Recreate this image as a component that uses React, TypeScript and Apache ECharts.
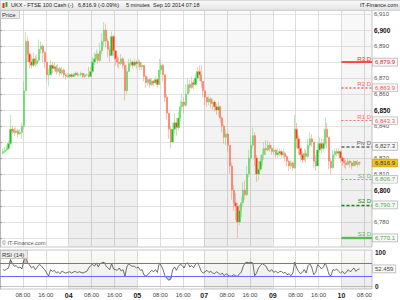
import React, { useEffect, useRef } from "react";
import * as echarts from "echarts";

// ---- data ----
const tickSlots = [12, 24, 36, 48, 60, 72, 84, 96, 107, 119, 131, 143, 155, 167, 179, 191];
const tickLabels = ["08:00", "16:00", "04", "08:00", "16:00", "05", "08:00", "16:00", "07", "08:00", "16:00", "09", "08:00", "16:00", "10", "08:00"];
const dayTickLabels = ["04", "05", "07", "09", "10"];
const shadedDays = [[36, 72], [107, 143], [179, 195]];
const slotCount = 195;

const firstSlot = 1;
const firstOpen = 6823;
const closes = [
  6824, 6825, 6826, 6829, 6838, 6837, 6836, 6837, 6835, 6836, 6840, 6862, 6893, 6885, 6880, 6878, 6882, 6879, 6881, 6888,
  6890, 6886, 6880, 6872, 6872, 6878, 6876, 6877, 6874, 6876, 6873, 6875, 6872, 6871, 6871, 6872, 6871, 6872, 6873, 6872,
  6872, 6873, 6871, 6872, 6872, 6871, 6874, 6880, 6882, 6885, 6881, 6887, 6893, 6900, 6893, 6888, 6884, 6896, 6887, 6882,
  6880, 6879, 6882, 6878, 6862, 6874, 6879, 6880, 6878, 6880, 6879, 6880, 6877, 6878, 6871, 6867, 6869, 6866, 6868, 6867,
  6869, 6866, 6875, 6878, 6872, 6858, 6848, 6838, 6830, 6838, 6842, 6839, 6845, 6852, 6855, 6853, 6860, 6866, 6864, 6867,
  6866, 6870, 6874, 6872, 6868, 6862, 6858, 6855, 6857, 6854, 6855, 6852, 6850, 6852, 6845, 6840, 6833, 6835, 6828, 6815,
  6800, 6792, 6790, 6780, 6787, 6792, 6800, 6797, 6810, 6820, 6828, 6834, 6820, 6810, 6813, 6818, 6822, 6826, 6825, 6828,
  6826, 6824, 6825, 6822, 6823, 6824, 6822, 6823, 6821, 6818, 6815, 6817, 6814, 6838, 6832, 6826, 6822, 6819, 6823, 6821,
  6828, 6832, 6830, 6818, 6815, 6825, 6829, 6826, 6829, 6838, 6833, 6818, 6814, 6822, 6824, 6823, 6824, 6820, 6818, 6817,
  6816, 6818, 6817, 6815, 6818, 6816, 6817, 6816.9,
];
const highs = [
  6826, 6827, 6828, 6831, 6847, 6840, 6839, 6839, 6838, 6838, 6842, 6868, 6899, 6896, 6886, 6884, 6886, 6884, 6885, 6894,
  6893, 6891, 6887, 6880, 6876, 6881, 6880, 6880, 6878, 6879, 6877, 6877, 6876, 6873, 6873, 6873, 6873, 6873, 6874, 6874,
  6873, 6874, 6873, 6873, 6873, 6877, 6877, 6883, 6886, 6888, 6886, 6892, 6898, 6905, 6904, 6895, 6890, 6899, 6897, 6886,
  6884, 6883, 6885, 6883, 6880, 6878, 6882, 6882, 6881, 6882, 6881, 6882, 6881, 6880, 6878, 6872, 6871, 6870, 6870, 6869,
  6871, 6870, 6882, 6881, 6879, 6872, 6860, 6848, 6840, 6842, 6848, 6845, 6849, 6856, 6860, 6858, 6866, 6870, 6869, 6871,
  6869, 6873, 6877, 6878, 6878, 6868, 6862, 6858, 6859, 6858, 6857, 6856, 6854, 6855, 6853, 6846, 6841, 6838, 6836, 6828,
  6817, 6803, 6798, 6792, 6791, 6796, 6805, 6806, 6815, 6825, 6834, 6839, 6836, 6822, 6818, 6822, 6826, 6830, 6831, 6831,
  6830, 6828, 6827, 6826, 6826, 6826, 6825, 6826, 6824, 6822, 6819, 6819, 6818, 6847, 6842, 6834, 6826, 6824, 6826, 6825,
  6832, 6836, 6835, 6830, 6822, 6830, 6833, 6832, 6832, 6845, 6842, 6830, 6820, 6825, 6826, 6826, 6826, 6825, 6821, 6820,
  6819, 6820, 6819, 6818, 6819, 6818, 6819, 6818,
];
const lows = [
  6822, 6823, 6824, 6825, 6828, 6835, 6834, 6835, 6833, 6834, 6832, 6838, 6862, 6880, 6876, 6876, 6877, 6877, 6878, 6880,
  6885, 6880, 6876, 6868, 6865, 6872, 6873, 6874, 6872, 6873, 6871, 6872, 6870, 6869, 6870, 6870, 6870, 6871, 6871, 6871,
  6871, 6871, 6870, 6870, 6871, 6870, 6871, 6873, 6878, 6881, 6879, 6880, 6885, 6890, 6889, 6883, 6880, 6884, 6884, 6878,
  6877, 6876, 6878, 6876, 6856, 6860, 6874, 6877, 6876, 6877, 6876, 6877, 6875, 6875, 6868, 6864, 6865, 6864, 6865, 6865,
  6866, 6864, 6866, 6872, 6868, 6855, 6844, 6832, 6826, 6829, 6835, 6834, 6837, 6843, 6849, 6848, 6852, 6860, 6861, 6863,
  6863, 6865, 6869, 6868, 6864, 6858, 6853, 6852, 6853, 6851, 6850, 6849, 6847, 6846, 6842, 6836, 6829, 6828, 6824, 6810,
  6794, 6787, 6781, 6770, 6778, 6783, 6790, 6794, 6796, 6808, 6818, 6826, 6815, 6805, 6806, 6812, 6815, 6819, 6822, 6824,
  6824, 6822, 6822, 6820, 6820, 6821, 6820, 6820, 6818, 6815, 6812, 6813, 6812, 6813, 6826, 6822, 6818, 6817, 6818, 6817,
  6820, 6826, 6827, 6814, 6812, 6815, 6823, 6823, 6824, 6828, 6826, 6813, 6810, 6813, 6820, 6821, 6821, 6817, 6815, 6814,
  6813, 6815, 6814, 6813, 6815, 6815, 6814, 6815,
];
const rsi = [
  50, 48, 52, 55, 80, 68, 60, 62, 55, 58, 52, 78, 91, 70, 64, 55, 60, 50, 58, 65,
  62, 55, 50, 40, 31, 50, 45, 48, 40, 44, 38, 46, 42, 40, 42, 44, 40, 43, 45, 41,
  44, 42, 40, 43, 45, 55, 62, 66, 60, 70, 58, 68, 70, 72, 62, 55, 50, 68, 52, 50,
  48, 55, 46, 50, 31, 58, 68, 62, 60, 60, 55, 58, 48, 50, 34, 31, 35, 42, 48, 44,
  50, 42, 70, 62, 50, 32, 24, 19, 22, 50, 58, 48, 60, 66, 62, 55, 68, 70, 58, 62,
  56, 66, 70, 60, 45, 40, 44, 48, 42, 45, 40, 38, 44, 40, 35, 40, 32, 38, 34, 31,
  31, 35, 32, 30, 38, 42, 60, 70, 72, 70, 72, 70, 32, 40, 55, 62, 68, 64, 60, 48,
  45, 50, 42, 46, 40, 44, 45, 40, 42, 35, 38, 32, 40, 72, 55, 45, 38, 42, 50, 40,
  62, 68, 55, 35, 42, 65, 60, 52, 58, 70, 55, 35, 32, 50, 48, 52, 45, 40, 45, 38,
  42, 50, 44, 48, 55, 45, 50, 52.459,
];
const rsiOverbought = 70;
const rsiOversold = 30;

const priceTicks = [6770, 6780, 6790, 6800, 6810, 6820, 6830, 6840, 6850, 6860, 6870, 6880, 6890, 6900, 6910];
const priceLabels = [6780, 6800, 6810, 6820, 6840, 6850, 6860, 6870, 6890, 6900, 6910];
const rsiTicks = [0, 100];

const levelNames = ["R3 D", "R2 D", "R1 D", "Piv D", "S1 D", "S2 D", "S3 D"];
const levelValues = [6879.9, 6863.9, 6843.3, 6827.3, 6806.7, 6790.7, 6770.1];
const levelStartSlot = 179;
const lastPrice = 6816.9;

const titleText = "UKX - FTSE 100 Cash (-)";
const priceText = "6,816.9 (-0.09%)";
const periodText = "5 minutes";
const dateText = "Sep 10 2014 07:18";
const brandText = "IT-Finance.com";

// ---- styles ----
const FONT = "'Liberation Sans', Arial, sans-serif";
const HIDDEN_LINE = { width: 0, color: "rgba(0,0,0,0)" };
const levelStyles = [
  { color: "#ff1a1a", type: "solid", width: 1.5, text: "#e61919" },
  { color: "#ff5c5c", type: [2, 2], width: 1.5, text: "#f05050" },
  { color: "#ff6a6a", type: [2, 2], width: 1.2, text: "#f05a5a" },
  { color: "#666666", type: [3, 2], width: 1.5, text: "#444444" },
  { color: "#66bb66", type: [2, 2], width: 1.2, text: "#55aa55" },
  { color: "#118811", type: [3, 2], width: 1.4, text: "#44aa44" },
  { color: "#5cb85c", type: "solid", width: 2.4, text: "#44aa44" },
];
const boxLabel = {
  show: true, position: "end", fontSize: 6, fontFamily: FONT,
  backgroundColor: "#f8f8f8", borderColor: "#bbbbbb", borderWidth: 0.8, padding: [1, 2, 0, 2], distance: 1,
};

const fmt = (v: number, d = 0) =>
  v.toLocaleString("en-US", { minimumFractionDigits: d, maximumFractionDigits: d });

export default function App() {
  const ref = useRef<HTMLDivElement>(null);
  useEffect(() => {
    const chart = echarts.init(ref.current!, null, { renderer: "svg" });

    const candleData = closes.map((c, k) => {
      const o = k === 0 ? firstOpen : closes[k - 1];
      return [firstSlot + k + 0.5, o, c, Math.min(lows[k], o, c), Math.max(highs[k], o, c)];
    });
    const rsiData = rsi.map((v, k) => [firstSlot + k + 0.5, v]);
    const rsiHigh = rsi.map((v, k) => [firstSlot + k + 0.5, Math.max(v, rsiOverbought)]);
    const rsiLow = rsi.map((v, k) => [firstSlot + k + 0.5, Math.min(v, rsiOversold)]);

    const shadeColor = new echarts.graphic.LinearGradient(0, 0, 0, 1, [
      { offset: 0, color: "rgba(0,0,0,0.025)" },
      { offset: 1, color: "rgba(0,0,0,0.07)" },
    ]);
    const bands = shadedDays.map(([a, b]) => [{ xAxis: a }, { xAxis: b }]);

    const levelLines: any[] = [];
    levelValues.forEach((v, i) => {
      const s = levelStyles[i];
      levelLines.push([
        {
          coord: [levelStartSlot, v],
          lineStyle: { color: s.color, type: s.type, width: s.width },
          label: {
            show: true, position: "insideEndTop", formatter: levelNames[i], color: s.color,
            fontSize: 6, fontFamily: FONT, distance: [1, 0.5],
          },
        },
        { coord: [slotCount, v] },
      ]);
      levelLines.push([
        {
          coord: [levelStartSlot, v],
          lineStyle: HIDDEN_LINE,
          label: { ...boxLabel, formatter: fmt(v, 1), color: s.text },
        },
        { coord: [slotCount, v] },
      ]);
    });
    levelLines.push({
      yAxis: lastPrice,
      lineStyle: HIDDEN_LINE,
      label: { ...boxLabel, formatter: fmt(lastPrice, 1), color: "#333", backgroundColor: "#f0c020", borderColor: "#c9a010" },
    });

    const xLabelFmt = (v: number) => {
      const i = tickSlots.indexOf(Math.round(v));
      if (i < 0) return "";
      const t = tickLabels[i];
      return dayTickLabels.includes(t) ? `{d|${t}}` : t;
    };

    const headerText = (text: string, x: number, align = "left") => ({
      type: "text", x, y: 5, z: 11,
      style: { text, font: `5.5px ${FONT}`, fill: "#222", verticalAlign: "middle", align },
    });

    const option: any = {
      animation: false,
      textStyle: { fontFamily: FONT },
      grid: [
        { left: 0, right: 28, top: 10, height: 237, show: true, borderColor: "#c8c8c8", borderWidth: 1, backgroundColor: "#fff" },
        { left: 0, right: 28, top: 250, height: 39, show: true, borderColor: "#c8c8c8", borderWidth: 1, backgroundColor: "#fff" },
      ],
      xAxis: [
        {
          type: "value", gridIndex: 0, min: 0, max: slotCount,
          axisLine: { show: false }, axisLabel: { show: false },
          axisTick: { show: false, customValues: tickSlots },
          splitLine: { show: true, lineStyle: { color: "#dcdcdc", width: 1 } },
        },
        {
          type: "value", gridIndex: 1, min: 0, max: slotCount,
          axisLine: { show: true, lineStyle: { color: "#c8c8c8" } },
          axisTick: { show: false, customValues: tickSlots },
          axisLabel: {
            show: true, customValues: tickSlots, formatter: xLabelFmt, fontSize: 6, color: "#444", margin: 3,
            fontFamily: FONT, rich: { d: { fontSize: 7, fontWeight: "bold", color: "#222", fontFamily: FONT } },
          },
          splitLine: { show: true, lineStyle: { color: "#dcdcdc", width: 1 } },
        },
      ],
      yAxis: [
        {
          type: "value", gridIndex: 0, position: "right", min: 6764.4, max: 6912.5,
          axisLine: { show: true, lineStyle: { color: "#b8b8b8" } },
          axisTick: { show: true, customValues: priceTicks, length: 2, lineStyle: { color: "#999" } },
          axisLabel: {
            show: true, customValues: priceLabels, fontSize: 6, color: "#555", margin: 2, fontFamily: FONT,
            formatter: (v: number) => (v % 50 === 0 ? `{b|${fmt(v)}}` : fmt(v)),
            rich: { b: { fontSize: 6.5, fontWeight: "bold", color: "#111", fontFamily: FONT } },
          },
          splitLine: { show: true, lineStyle: { color: "#e4e4e4", width: 1 } },
        },
        {
          type: "value", gridIndex: 1, position: "right", min: -7, max: 108,
          axisLine: { show: true, lineStyle: { color: "#b8b8b8" } },
          axisTick: { show: true, customValues: rsiTicks, length: 2, lineStyle: { color: "#999" } },
          axisLabel: {
            show: true, customValues: rsiTicks, fontSize: 6.5, fontWeight: "bold", color: "#222", margin: 3, fontFamily: FONT,
          },
          splitLine: { show: false },
        },
      ],
      series: [
        {
          type: "candlestick", xAxisIndex: 0, yAxisIndex: 0, data: candleData, clip: false,
          encode: { x: 0, y: [1, 2, 3, 4] },
          barWidth: 1.8,
          itemStyle: { color: "#1cc01c", color0: "#ff3a10", borderColor: "#6edc6e", borderColor0: "#ff8266", borderWidth: 0.5 },
          markArea: { silent: true, itemStyle: { color: shadeColor }, data: bands },
          markLine: { silent: true, symbol: ["none", "none"], animation: false, data: levelLines },
          z: 3,
        },
        {
          type: "line", xAxisIndex: 1, yAxisIndex: 1, data: rsiHigh, symbol: "none", clip: false,
          lineStyle: { width: 0 }, areaStyle: { color: "#e8b4c0", origin: rsiOverbought, opacity: 1 }, z: 2,
        },
        {
          type: "line", xAxisIndex: 1, yAxisIndex: 1, data: rsiLow, symbol: "none", clip: false,
          lineStyle: { width: 0 }, areaStyle: { color: "#a8dca8", origin: rsiOversold, opacity: 1 }, z: 2,
        },
        {
          type: "line", xAxisIndex: 1, yAxisIndex: 1, data: rsiData, symbol: "none", clip: false,
          lineStyle: { color: "#333", width: 0.7 }, z: 4,
          markArea: { silent: true, itemStyle: { color: shadeColor }, data: bands },
          markLine: {
            silent: true, symbol: ["none", "none"], animation: false,
            data: [
              { yAxis: rsiOverbought, lineStyle: { color: "#6a6aff", width: 1, type: "solid" }, label: { show: false } },
              { yAxis: rsiOversold, lineStyle: { color: "#6a6aff", width: 1, type: "solid" }, label: { show: false } },
              {
                yAxis: rsi[rsi.length - 1], lineStyle: HIDDEN_LINE,
                label: { ...boxLabel, formatter: String(rsi[rsi.length - 1]), color: "#444" },
              },
            ],
          },
        },
      ],
      graphic: [
        {
          type: "rect", left: 0, top: 0, shape: { width: 400, height: 10 }, z: 10,
          style: {
            fill: new echarts.graphic.LinearGradient(0, 0, 0, 1, [
              { offset: 0, color: "#fcfcfc" }, { offset: 1, color: "#e2e2e2" },
            ]),
            stroke: "#c8c8c8", lineWidth: 0.8,
          },
        },
        { type: "rect", x: 2.5, y: 3, shape: { width: 2, height: 5 }, style: { fill: "#e83020" }, z: 11 },
        { type: "rect", x: 5.5, y: 2, shape: { width: 2, height: 5 }, style: { fill: "#30b030" }, z: 11 },
        headerText(titleText, 11),
        headerText(priceText, 78),
        headerText(periodText, 126),
        headerText(dateText, 153),
        headerText(brandText, 398, "right"),
        { type: "rect", x: 0.5, y: 10.5, shape: { width: 19, height: 8 }, z: 11, style: { fill: "#ececec", stroke: "#bdbdbd", lineWidth: 0.8 } },
        { type: "text", x: 2, y: 14.8, z: 12, style: { text: "Price", font: `6px ${FONT}`, fill: "#333", verticalAlign: "middle" } },
        { type: "rect", x: 0.5, y: 250.5, shape: { width: 27, height: 8 }, z: 11, style: { fill: "#ececec", stroke: "#bdbdbd", lineWidth: 0.8 } },
        { type: "text", x: 2, y: 254.8, z: 12, style: { text: "RSI (14)", font: `6px ${FONT}`, fill: "#333", verticalAlign: "middle" } },
        { type: "text", x: 2, y: 243, z: 12, style: { text: "© IT-Finance.com", font: `5.5px ${FONT}`, fill: "#555", verticalAlign: "middle" } },
      ],
    };
    chart.setOption(option);
    return () => chart.dispose();
  }, []);
  return <div ref={ref} style={{ position: "absolute", left: 0, top: 0, width: 400, height: 300 }} />;
}
